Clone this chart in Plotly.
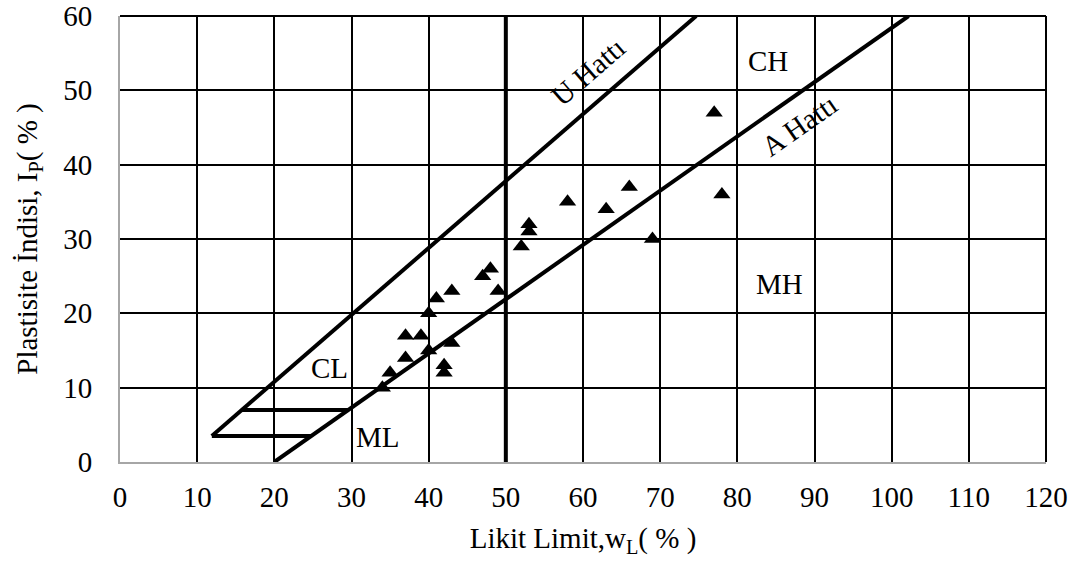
import plotly.graph_objects as go

# Data
liquid_limit = [34, 35, 37, 37, 39, 40, 40, 41, 42, 42, 43, 43, 47, 48, 49,
                52, 53, 53, 58, 63, 66, 69, 77, 78]
plasticity_index = [10, 12, 14, 17, 17, 15, 20, 22, 13, 12, 16, 23, 25, 26, 23,
                    29, 31, 32, 35, 34, 37, 30, 47, 36]

# Reference lines (Casagrande chart)
u_line_x = [11.9, 74.67]
u_line_y = [3.5, 60]
a_line_x = [20, 102.19]
a_line_y = [0, 60]
h7_x = [15.78, 29.59]
h7_y = [7, 7]
h35_x = [11.9, 24.8]
h35_y = [3.5, 3.5]
v50_x = [50, 50]
v50_y = [0, 60]

x_ticks = list(range(0, 121, 10))
y_ticks = list(range(0, 61, 10))

FONT = "Liberation Serif"
FS = 29

fig = go.Figure()

line_style = dict(color="black", width=4)
for xs, ys in [(u_line_x, u_line_y), (a_line_x, a_line_y), (h7_x, h7_y),
               (h35_x, h35_y), (v50_x, v50_y)]:
    fig.add_trace(go.Scatter(x=xs, y=ys, mode="lines", line=line_style,
                             hoverinfo="skip", showlegend=False))

fig.add_trace(go.Scatter(x=liquid_limit, y=plasticity_index, mode="markers",
                         marker=dict(symbol="triangle-up", size=15, color="black"),
                         showlegend=False))

labels = [
    dict(x=84, y=54, text="CH", angle=0),
    dict(x=85.5, y=24, text="MH", angle=0),
    dict(x=27.2, y=12.7, text="CL", angle=0),
    dict(x=33.4, y=3.4, text="ML", angle=0),
    dict(x=60.6, y=52.5, text="U Hattı", angle=-40.9),
    dict(x=88.1, y=45.3, text="A Hattı", angle=-35.1),
]
for lb in labels:
    fig.add_annotation(x=lb["x"], y=lb["y"], text=lb["text"], showarrow=False,
                       textangle=lb["angle"], font=dict(family=FONT, size=FS, color="black"),
                       xanchor="center", yanchor="middle")

# top and right border
fig.add_shape(type="line", xref="paper", yref="paper", x0=0, x1=1, y0=1, y1=1,
              line=dict(color="black", width=2))
fig.add_shape(type="line", xref="paper", yref="paper", x0=1, x1=1, y0=0, y1=1,
              line=dict(color="black", width=2))

fig.update_xaxes(range=[0, 120], tickvals=x_ticks, ticktext=[str(v) for v in x_ticks],
                 showgrid=True, gridcolor="black", gridwidth=2, zeroline=False,
                 showline=True, linecolor="#a6a6a6", linewidth=2,
                 ticks="", ticklabelstandoff=8, automargin=False,
                 ticklabeloverflow="allow",
                 tickfont=dict(family=FONT, size=FS, color="black"),
                 title=dict(text="Likit Limit,w<sub>L</sub>( % )", standoff=16,
                            font=dict(family=FONT, size=FS, color="black")))
fig.update_yaxes(range=[0, 60], tickvals=y_ticks, ticktext=[str(v) for v in y_ticks],
                 showgrid=True, gridcolor="black", gridwidth=2, zeroline=False,
                 showline=True, linecolor="#a6a6a6", linewidth=2,
                 ticks="", ticklabelstandoff=20, automargin=False,
                 ticklabeloverflow="allow",
                 tickfont=dict(family=FONT, size=FS, color="black"),
                 title=dict(text="Plastisite İndisi, I<sub>P</sub>( % )", standoff=17,
                            font=dict(family=FONT, size=FS, color="black")))

fig.update_layout(width=1079, height=563,
                  margin=dict(l=120, r=33, t=16, b=101, autoexpand=False),
                  plot_bgcolor="white", paper_bgcolor="white",
                  font=dict(family=FONT, size=FS, color="black"))

fig.write_html("out.html",
               config={"displayModeBar": False},
               post_script="document.body.style.margin='0';document.body.style.overflow='hidden';")
